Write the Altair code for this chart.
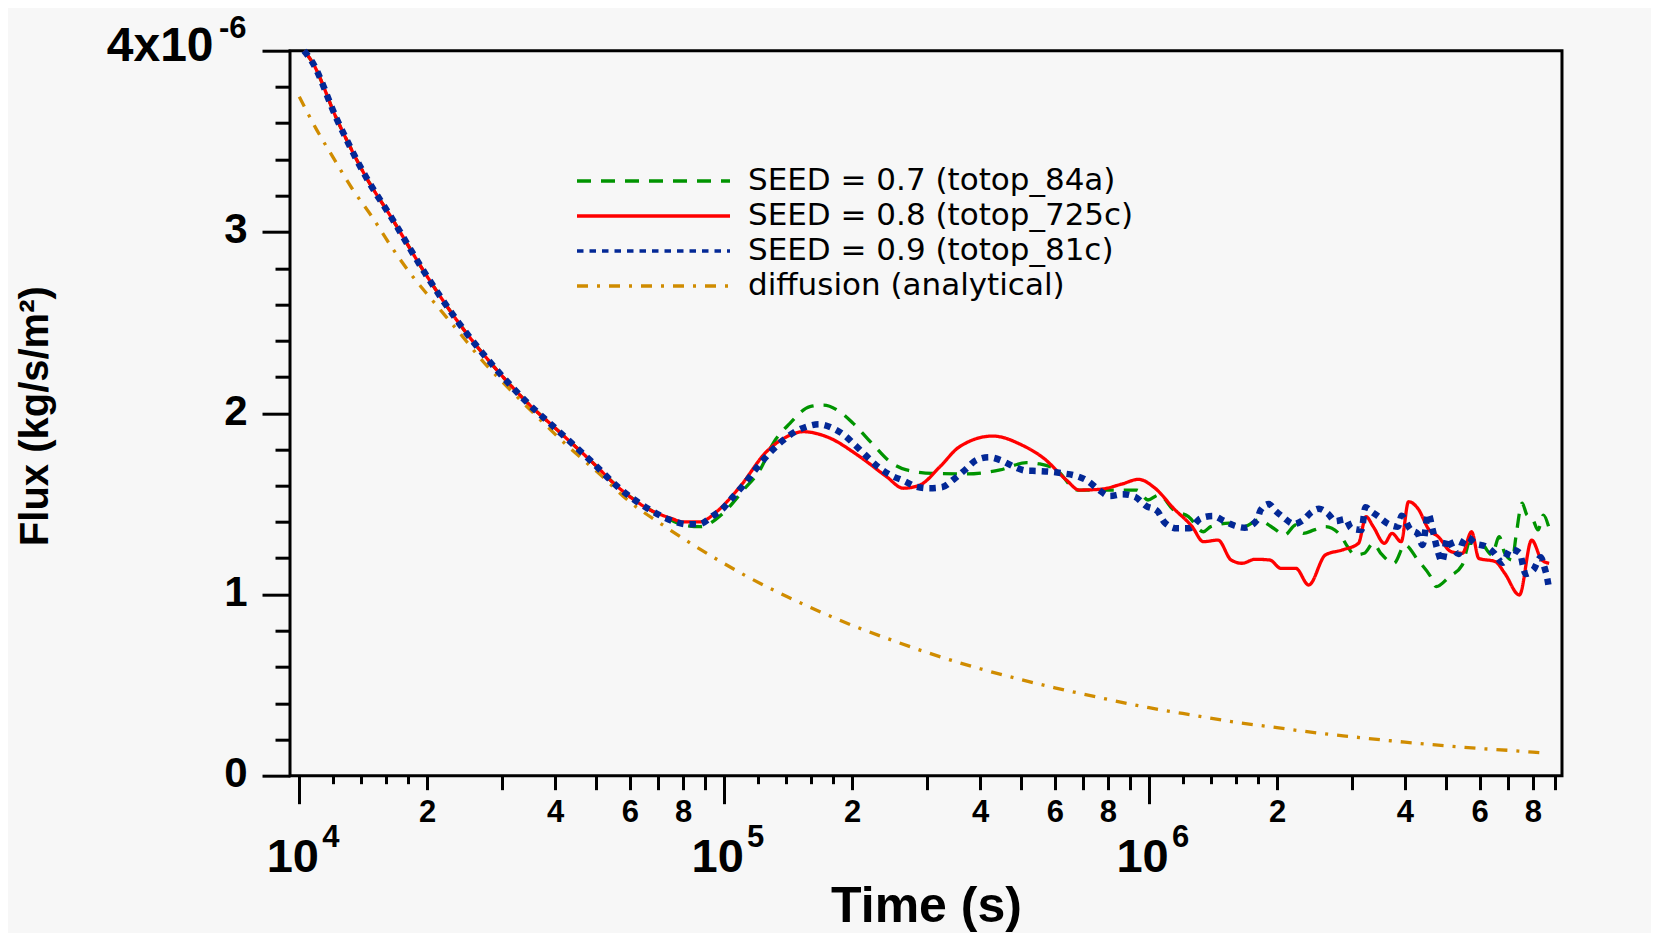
import altair as alt
import pandas as pd

FONT = "Liberation Sans"
LEGEND_FONT = "DejaVu Sans"

S1 = "SEED = 0.7 (totop_84a)"
S2 = "SEED = 0.8 (totop_725c)"
S3 = "SEED = 0.9 (totop_81c)"
S4 = "diffusion (analytical)"
SERIES = [S1, S2, S3, S4]
COLORS = ["#009400", "#ff0000", "#032896", "#d08c00"]
DASHES = [[14, 10], [1, 0], [6.5, 6], [11, 9, 3, 9]]

# early part, common to the three simulations
early_t = [1.026e4, 1.071e4, 1.227e4, 1.43e4, 1.652e4, 1.98e4, 2.37e4, 2.84e4, 3.40e4,
           4.08e4, 4.89e4, 5.64e4, 6.7e4]
early_v = [4.0, 3.94, 3.62, 3.31, 3.075, 2.77, 2.50, 2.27, 2.07,
           1.90, 1.73, 1.59, 1.466]

green_t = [7.5e4, 8.01e4, 8.77e4, 9.94e4, 1.11e5, 1.214e5, 1.304e5, 1.428e5, 1.591e5, 1.711e5,
           1.872e5, 2.012e5, 2.244e5, 2.456e5, 2.686e5, 3.1e5, 3.72e5, 4.46e5, 5.15e5, 5.53e5,
           6.06e5, 6.78e5, 8.12e5, 9.35e5, 9.94e5, 1.055e6, 1.142e6, 1.238e6, 1.342e6, 1.396e6,
           1.543e6, 1.671e6, 1.811e6, 1.963e6, 2.085e6, 2.214e6, 2.305e6, 2.447e6, 2.6e6, 2.818e6,
           2.93e6, 3.05e6, 3.21e6, 3.37e6, 3.51e6, 3.77e6, 4.0e6, 4.29e6, 4.6e6, 4.74e6,
           5.09e6, 5.46e6, 5.68e6, 6.03e6, 6.41e6, 6.67e6, 6.87e6, 7.16e6, 7.3e6, 7.55e6,
           7.75e6, 7.98e6, 8.23e6, 8.47e6, 8.74e6]
green_v = [1.41, 1.383, 1.374, 1.448, 1.576, 1.687, 1.834, 1.944, 2.036, 2.045,
           2.008, 1.944, 1.825, 1.732, 1.687, 1.668, 1.665, 1.687, 1.727, 1.72,
           1.687, 1.576, 1.576, 1.576, 1.521, 1.549, 1.466, 1.429, 1.346, 1.374,
           1.393, 1.374, 1.411, 1.365, 1.328, 1.383, 1.337, 1.356, 1.374, 1.328,
           1.264, 1.218, 1.227, 1.282, 1.227, 1.172, 1.273, 1.19, 1.098, 1.043,
           1.098, 1.163, 1.282, 1.282, 1.218, 1.319, 1.227, 1.19, 1.319, 1.503,
           1.438, 1.42, 1.356, 1.438, 1.365]

red_t = [7.5e4, 8.01e4, 8.77e4, 9.6e4, 1.089e5, 1.258e5, 1.403e5, 1.536e5, 1.743e5, 2.086e5,
         2.41e5, 2.64e5, 2.89e5, 3.22e5, 3.58e5, 4.29e5, 4.45e5, 4.96e5, 5.66e5, 6.39e5,
         6.85e5, 7.66e5, 8.63e5, 9.44e5, 1.033e6, 1.142e6, 1.263e6, 1.342e6, 1.453e6, 1.56e6,
         1.656e6, 1.776e6, 1.923e6, 2.043e6, 2.214e6, 2.375e6, 2.6e6, 2.845e6, 3.11e6, 3.24e6,
         3.37e6, 3.58e6, 3.73e6, 3.92e6, 4.08e6, 4.29e6, 4.56e6, 4.79e6, 5.14e6, 5.46e6,
         5.74e6, 5.97e6, 6.53e6, 6.87e6, 7.44e6, 7.95e6, 8.4e6, 8.74e6]
red_v = [1.42, 1.40, 1.40, 1.457, 1.594, 1.788, 1.87, 1.898, 1.87, 1.76,
         1.65, 1.586, 1.604, 1.705, 1.815, 1.874, 1.87, 1.83, 1.75, 1.631,
         1.576, 1.58, 1.609, 1.635, 1.586, 1.475, 1.374, 1.291, 1.30, 1.19,
         1.172, 1.194, 1.19, 1.144, 1.144, 1.052, 1.218, 1.245, 1.282, 1.429,
         1.374, 1.282, 1.337, 1.291, 1.512, 1.475, 1.356, 1.319, 1.236, 1.227,
         1.346, 1.199, 1.181, 1.117, 0.997, 1.30, 1.19, 1.172]

blue_t = [7.66e4, 8.17e4, 8.77e4, 9.34e4, 9.94e4, 1.05e5, 1.105e5, 1.214e5, 1.281e5, 1.364e5,
          1.461e5, 1.564e5, 1.671e5, 1.79e5, 1.914e5, 2.043e5, 2.175e5, 2.325e5, 2.485e5, 2.653e5,
          2.84e5, 3.04e5, 3.25e5, 3.47e5, 3.7e5, 3.93e5, 4.2e5, 4.5e5, 4.81e5, 5.13e5,
          5.49e5, 5.87e5, 6.28e5, 6.72e5, 7.17e5, 7.57e5, 8.09e5, 8.66e5, 9.26e5, 9.84e5,
          1.045e6, 1.087e6, 1.162e6, 1.243e6, 1.322e6, 1.413e6, 1.503e6, 1.591e6, 1.68e6, 1.795e6,
          1.83e6, 1.913e6, 1.983e6, 2.077e6, 2.19e6, 2.305e6, 2.414e6, 2.51e6, 2.64e6, 2.744e6,
          2.9e6, 2.99e6, 3.16e6, 3.23e6, 3.34e6, 3.45e6, 3.67e6, 3.85e6, 3.93e6, 4.12e6,
          4.29e6, 4.4e6, 4.54e6, 4.65e6, 4.79e6, 4.89e6, 5.04e6, 5.19e6, 5.35e6, 5.46e6,
          5.62e6, 5.85e6, 6.21e6, 6.47e6, 6.8e6, 7.08e6, 7.44e6, 7.7e6, 8.02e6, 8.35e6,
          8.52e6, 8.65e6, 8.74e6]
blue_v = [1.401, 1.387, 1.389, 1.429, 1.475, 1.539, 1.598, 1.72, 1.782, 1.843,
          1.895, 1.926, 1.939, 1.92, 1.88, 1.819, 1.757, 1.696, 1.654, 1.626,
          1.594, 1.586, 1.591, 1.635, 1.69, 1.742, 1.757, 1.738, 1.705, 1.683,
          1.681, 1.677, 1.668, 1.655, 1.626, 1.582, 1.543, 1.553, 1.539, 1.488,
          1.461, 1.398, 1.365, 1.365, 1.42, 1.433, 1.405, 1.379, 1.368, 1.411,
          1.466, 1.499, 1.462, 1.423, 1.389, 1.411, 1.455, 1.473, 1.444, 1.404,
          1.415, 1.365, 1.356, 1.481, 1.457, 1.433, 1.387, 1.374, 1.434, 1.359,
          1.334, 1.273, 1.444, 1.356, 1.231, 1.181, 1.31, 1.255, 1.223, 1.282,
          1.315, 1.282, 1.264, 1.231, 1.175, 1.249, 1.231, 1.113, 1.135, 1.205,
          1.15, 1.089, 1.028]

gold_t = [1.0e4, 1.1e4, 1.205e4, 1.33e4, 1.483e4, 1.637e4, 1.824e4, 2.07e4, 2.37e4, 2.71e4,
          3.14e4, 3.66e4, 4.3e4, 5.07e4, 6.0e4, 7.2e4, 8.5e4, 1.0e5, 1.13e5, 1.4e5,
          1.7e5, 2.0e5, 2.5e5, 3.0e5, 4.0e5, 5.0e5, 6.0e5, 7.5e5, 1.0e6, 1.3e6,
          1.6e6, 2.0e6, 2.5e6, 3.0e6, 4.0e6, 5.0e6, 6.0e6, 7.0e6, 8.0e6, 8.6e6]
gold_v = [3.746, 3.562, 3.406, 3.241, 3.084, 2.928, 2.772, 2.615, 2.45, 2.284,
          2.128, 1.972, 1.815, 1.668, 1.51, 1.38, 1.27, 1.17, 1.10, 0.99,
          0.90, 0.83, 0.745, 0.68, 0.59, 0.53, 0.485, 0.435, 0.375, 0.33,
          0.295, 0.265, 0.235, 0.215, 0.185, 0.165, 0.15, 0.14, 0.13, 0.125]

# axis tick values
X_DECADES = [1e4, 1e5, 1e6]
X_LABELED = [2e4, 4e4, 6e4, 8e4, 2e5, 4e5, 6e5, 8e5, 2e6, 4e6, 6e6, 8e6]
X_MEDIUM = [3e4, 5e4, 7e4, 9e4, 3e5, 5e5, 7e5, 9e5, 3e6, 5e6, 7e6, 9e6]
X_SHORT = [1.2e4, 1.4e4, 1.6e4, 1.8e4, 1.2e5, 1.4e5, 1.6e5, 1.8e5, 1.2e6, 1.4e6, 1.6e6, 1.8e6]
Y_MAJOR = [0, 1, 2, 3, 4]
Y_MINOR = [0.2, 0.4, 0.6, 0.8, 1.2, 1.4, 1.6, 1.8, 2.2, 2.4, 2.6, 2.8, 3.2, 3.4, 3.6, 3.8]

rows = []
for name, ts, vs in [(S1, early_t + green_t, early_v + green_v),
                     (S2, early_t + red_t, early_v + red_v),
                     (S3, early_t + blue_t, early_v + blue_v),
                     (S4, gold_t, gold_v)]:
    for t, v in zip(ts, vs):
        rows.append({"series": name, "t": t, "v": v})
df = pd.DataFrame(rows)

xscale = alt.Scale(type="log", domain=[9510, 9.37e6], nice=False)
yscale = alt.Scale(domain=[0, 4], nice=False, zero=False)

BASE = dict(grid=False, domain=False, labelFont=FONT, labelColor="black",
            tickColor="black", tickWidth=3, labelOverlap=False, labelFlush=False,
            labelBound=False, title=None, labelFontWeight="bold")


def ax(orient, **kw):
    d = dict(BASE)
    d.update(kw)
    return alt.Axis(orient=orient, **d)


legend = alt.Legend(
    orient="none", legendX=285, legendY=113, title=None, padding=0,
    labelFont=LEGEND_FONT, labelFontSize=31, labelColor="black", labelLimit=900,
    labelOffset=16, symbolSize=23409, symbolStrokeWidth=3.5, clipHeight=34.5,
    rowPadding=0, symbolType="stroke",
)

color = alt.Color("series:N", scale=alt.Scale(domain=SERIES, range=COLORS), legend=legend)
dash = alt.StrokeDash("series:N", scale=alt.Scale(domain=SERIES, range=DASHES), legend=legend)

ax_x_decade = ax("bottom", values=X_DECADES, tickSize=28, labels=False,
                 title="Time (s)", titleFont=FONT, titleFontSize=50, titleFontWeight="bold",
                 titleColor="black", titleBaseline="alphabetic", titleAlign="center",
                 titleX=636, titleY=146)
ax_x_lab = ax("bottom", values=X_LABELED, tickSize=14, labelFontSize=31,
              labelBaseline="alphabetic", labelAlign="center", labelPadding=32,
              labelExpr="format(datum.value / pow(10, floor(log(datum.value) / LN10 + 1e-6)), '.0f')")
ax_x_med = ax("bottom", values=X_MEDIUM, tickSize=14, labels=False)
ax_x_short = ax("bottom", values=X_SHORT, tickSize=8, labels=False)
ax_x_ten = ax("bottom", values=X_DECADES, ticks=False, tickSize=0, labelFontSize=47,
              labelBaseline="alphabetic", labelAlign="center", labelPadding=96,
              labelOffset=-7, labelExpr="'10'")
ax_x_exp = ax("bottom", values=X_DECADES, ticks=False, tickSize=0, labelFontSize=31,
              labelBaseline="alphabetic", labelAlign="center", labelPadding=71,
              labelOffset=31, labelExpr="format(log(datum.value) / LN10, '.0f')")

ax_y_major = ax("left", values=Y_MAJOR, tickSize=28, labelFontSize=42, labelPadding=15,
                labelBaseline="middle", labelAlign="right", labelOffset=-2,
                labelExpr="datum.value >= 4 ? '' : format(datum.value, 'd')",
                title="Flux (kg/s/m²)", titleFont=FONT, titleFontSize=40,
                titleFontWeight="bold", titleColor="black", titleAngle=270,
                titleX=-243, titleY=365, titleBaseline="alphabetic", titleAlign="center")
ax_y_minor = ax("left", values=Y_MINOR, tickSize=15, labels=False)
ax_y_top = ax("left", values=[4], ticks=False, tickSize=0, labelFontSize=48, labelPadding=77,
              labelBaseline="middle", labelAlign="right", labelOffset=-4, labelExpr="'4x10'")
ax_y_exp = ax("left", values=[4], ticks=False, tickSize=0, labelFontSize=31, labelPadding=44,
              labelBaseline="middle", labelAlign="right", labelOffset=-22, labelExpr="'-6'")

base = alt.Chart(df)

thin = base.transform_filter(alt.datum.series != S3).mark_line(
    strokeWidth=3.3, interpolate="monotone").encode(
    x=alt.X("t:Q", scale=xscale, axis=ax_x_decade),
    y=alt.Y("v:Q", scale=yscale, axis=ax_y_major),
    color=color, strokeDash=dash)

blue = base.transform_filter(alt.datum.series == S3).mark_line(
    strokeWidth=6.5, interpolate="monotone").encode(
    x=alt.X("t:Q", scale=xscale, axis=ax_x_lab),
    y=alt.Y("v:Q", scale=yscale, axis=ax_y_minor),
    color=color, strokeDash=dash)


def ghost(xa, ya):
    return base.mark_point(opacity=0, size=1).encode(
        x=alt.X("t:Q", scale=xscale, axis=xa),
        y=alt.Y("v:Q", scale=yscale, axis=ya))


chart = alt.layer(
    thin, blue,
    ghost(ax_x_med, ax_y_top),
    ghost(ax_x_short, ax_y_exp),
    ghost(ax_x_ten, None),
    ghost(ax_x_exp, None),
).resolve_axis(x="independent", y="independent").properties(
    width=1272, height=725,
    autosize=alt.AutoSizeParams(type="none"),
    padding={"left": 282, "top": 42.7, "right": 89, "bottom": 157},
    background="#f7f7f7",
).configure_view(stroke="black", strokeWidth=3)

chart.save("out.html", embed_options={"renderer": "svg", "actions": False})
